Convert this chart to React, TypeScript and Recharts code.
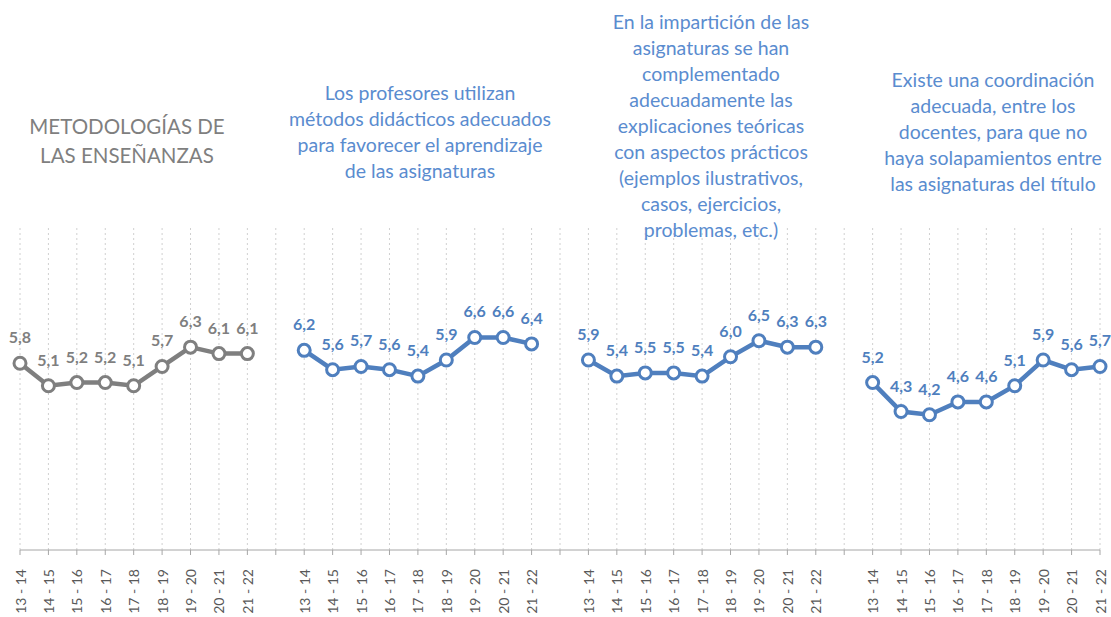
import React from "react"
import { LineChart, Line, XAxis, YAxis, CartesianGrid, LabelList } from "recharts"

const years = ["13 - 14", "14 - 15", "15 - 16", "16 - 17", "17 - 18", "18 - 19", "19 - 20", "20 - 21", "21 - 22"]

const metodologias = [5.8, 5.1, 5.2, 5.2, 5.1, 5.7, 6.3, 6.1, 6.1]
const metodosDidacticos = [6.2, 5.6, 5.7, 5.6, 5.4, 5.9, 6.6, 6.6, 6.4]
const teoriaPractica = [5.9, 5.4, 5.5, 5.5, 5.4, 6.0, 6.5, 6.3, 6.3]
const coordinacion = [5.2, 4.3, 4.2, 4.6, 4.6, 5.1, 5.9, 5.6, 5.7]

const groups = [
  { key: "g1", values: metodologias, color: "#7f7f7f" },
  { key: "g2", values: metodosDidacticos, color: "#4f7fbe" },
  { key: "g3", values: teoriaPractica, color: "#4f7fbe" },
  { key: "g4", values: coordinacion, color: "#4f7fbe" },
]

// one row per year, with an empty row between the groups
const rows: Record<string, any>[] = []
groups.forEach((g, gi) => {
  if (gi > 0) rows.push({ idx: rows.length, label: "" })
  years.forEach((y, i) => {
    rows.push({ idx: rows.length, label: y, [g.key]: g.values[i] })
  })
})

const fmt = (v: number) => v.toFixed(1).replace(".", ",")

const YearTick = (props: any) => {
  const { x, y, payload } = props
  const label = rows[payload.value]?.label ?? ""
  return (
    <text
      x={x}
      y={y + 12}
      transform={`rotate(-90, ${x}, ${y + 12})`}
      textAnchor="end"
      dominantBaseline="central"
      fontSize={14}
      fontFamily="Lato, sans-serif"
      fill="#595959"
    >
      {label}
    </text>
  )
}

const makeLabel = (color: string) => (props: any) => {
  const { x, y, value } = props
  if (value == null) return null
  return (
    <text x={x} y={y - 20} textAnchor="middle" fontSize={16} fontWeight="bold" fontFamily="Lato, sans-serif" fill={color}>
      {fmt(value)}
    </text>
  )
}

const titleStyle: React.CSSProperties = {
  position: "absolute",
  textAlign: "center",
  fontFamily: "Lato, sans-serif",
  fontSize: 19.5,
  lineHeight: "26px",
  color: "#5a8ccf",
  transform: "translateX(-50%)",
  whiteSpace: "nowrap",
}

export default function App() {
  return (
    <div style={{ position: "absolute", left: 0, top: 0, width: 1111, height: 617, background: "#fff" }}>
      <LineChart width={1111} height={617} data={rows} margin={{ top: 228, right: 11, left: 20, bottom: 0 }}>
        <CartesianGrid horizontal={false} stroke="#d0d0d0" strokeDasharray="2 3" />
        <XAxis
          dataKey="idx"
          type="category"
          interval={0}
          height={67}
          tick={<YearTick />}
          tickSize={5}
          stroke="#a6a6a6"
          tickLine={{ stroke: "#a6a6a6" }}
        />
        <YAxis hide domain={[0, 10]} width={0} />
        {groups.map((g) => (
          <Line
            key={g.key}
            dataKey={g.key}
            stroke={g.color}
            strokeWidth={4.5}
            dot={{ r: 6, fill: "#fff", stroke: g.color, strokeWidth: 3 }}
            isAnimationActive={false}
            connectNulls={false}
          >
            <LabelList dataKey={g.key} content={makeLabel(g.color)} />
          </Line>
        ))}
      </LineChart>
      <div style={{ ...titleStyle, left: 127, top: 112, fontSize: 20.5, lineHeight: "29px", color: "#7f7f7f" }}>
        METODOLOGÍAS DE
        <br />
        LAS ENSEÑANZAS
      </div>
      <div style={{ ...titleStyle, left: 420, top: 80 }}>
        Los profesores utilizan
        <br />
        métodos didácticos adecuados
        <br />
        para favorecer el aprendizaje
        <br />
        de las asignaturas
      </div>
      <div style={{ ...titleStyle, left: 711, top: 9 }}>
        En la impartición de las
        <br />
        asignaturas se han
        <br />
        complementado
        <br />
        adecuadamente las
        <br />
        explicaciones teóricas
        <br />
        con aspectos prácticos
        <br />
        (ejemplos ilustrativos,
        <br />
        casos, ejercicios,
        <br />
        problemas, etc.)
      </div>
      <div style={{ ...titleStyle, left: 993, top: 67 }}>
        Existe una coordinación
        <br />
        adecuada, entre los
        <br />
        docentes, para que no
        <br />
        haya solapamientos entre
        <br />
        las asignaturas del título
      </div>
    </div>
  )
}
